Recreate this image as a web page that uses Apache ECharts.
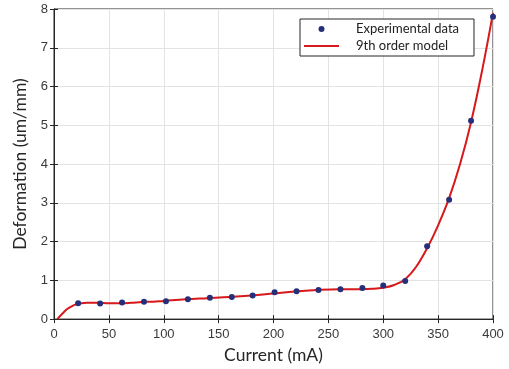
<!DOCTYPE html>
<html><head><meta charset="utf-8">
<style>html,body{margin:0;padding:0;background:#fff}#c{width:509px;height:369px}</style>
<script src="https://cdn.jsdelivr.net/npm/echarts@6/dist/echarts.min.js"></script>
</head><body><div id="c"></div>
<script>
// Experimental data (current mA, deformation um/mm)
var expX = [22, 42, 62, 82, 102, 122, 142, 162, 181, 201, 221, 241, 261, 281, 300, 320, 340, 360, 380, 400];
var expY = [0.41, 0.40, 0.43, 0.45, 0.46, 0.51, 0.55, 0.57, 0.61, 0.69, 0.72, 0.75, 0.77, 0.80, 0.87, 0.98, 1.88, 3.08, 5.12, 7.80];
// 9th order model curve
var modelX = [3, 8, 12, 16, 20, 25, 30, 40, 50, 60, 70, 80, 90, 100, 120, 140, 160, 180, 200, 220, 240, 260, 280, 290, 300, 310, 320, 330, 340, 350, 360, 370, 380, 390, 400];
var modelY = [0, 0.15, 0.26, 0.33, 0.38, 0.41, 0.42, 0.42, 0.41, 0.41, 0.42, 0.44, 0.45, 0.47, 0.51, 0.54, 0.57, 0.61, 0.66, 0.71, 0.75, 0.77, 0.77, 0.78, 0.81, 0.88, 1.03, 1.35, 1.83, 2.42, 3.12, 4.0, 5.08, 6.4, 7.9];
var xTicks = [0, 50, 100, 150, 200, 250, 300, 350, 400];
var yTicks = [0, 1, 2, 3, 4, 5, 6, 7, 8];

var expData = expX.map(function (x, i) { return [x, expY[i]]; });
var modelData = modelX.map(function (x, i) { return [x, modelY[i]]; });

var axisColor = '#262626';
var labelColor = '#3a3a3a';
var gridColor = '#e3e3e3';
var chart = echarts.init(document.getElementById('c'), null, {renderer: 'canvas'});
chart.setOption({
  animation: false,
  backgroundColor: '#ffffff',
  grid: {left: 54, right: 16, top: 9, bottom: 49, show: true, borderColor: axisColor, borderWidth: 1},
  xAxis: [{
    type: 'value', min: xTicks[0], max: xTicks[xTicks.length - 1], interval: 50,
    name: 'Current (mA)', nameLocation: 'middle', nameGap: 21,
    nameTextStyle: {fontFamily: 'Lato', fontSize: 17.5, color: axisColor},
    axisLine: {show: true, lineStyle: {color: axisColor}},
    axisTick: {show: true, inside: true, length: 4, lineStyle: {color: axisColor}},
    axisLabel: {fontFamily: 'Liberation Sans', fontSize: 13, color: labelColor, margin: 9},
    splitLine: {show: true, lineStyle: {color: gridColor, width: 1}}
  }, {
    type: 'value', position: 'top', min: 0, max: 400, interval: 50,
    axisLine: {show: true, lineStyle: {color: axisColor}},
    axisTick: {show: true, inside: true, length: 4, lineStyle: {color: axisColor}},
    axisLabel: {show: false}, splitLine: {show: false}
  }],
  yAxis: [{
    type: 'value', min: yTicks[0], max: yTicks[yTicks.length - 1], interval: 1,
    name: 'Deformation (um/mm)', nameLocation: 'middle', nameGap: 25,
    nameTextStyle: {fontFamily: 'Lato', fontSize: 17.5, color: axisColor},
    axisLine: {show: true, lineStyle: {color: axisColor}},
    axisTick: {show: true, inside: true, length: 4, lineStyle: {color: axisColor}},
    axisLabel: {fontFamily: 'Liberation Sans', fontSize: 13, color: labelColor, margin: 6},
    splitLine: {show: true, lineStyle: {color: gridColor, width: 1}}
  }, {
    type: 'value', position: 'right', min: 0, max: 8, interval: 1,
    axisLine: {show: true, lineStyle: {color: axisColor}},
    axisTick: {show: true, inside: true, length: 4, lineStyle: {color: axisColor}},
    axisLabel: {show: false}, splitLine: {show: false}
  }],
  legend: {
    orient: 'vertical', left: 300, top: 19,
    backgroundColor: '#ffffff', borderColor: axisColor, borderWidth: 1,
    padding: [3, 15, 3, 4], itemGap: 3, itemWidth: 35, itemHeight: 6,
    textStyle: {fontFamily: 'Lato', fontSize: 13, color: '#222', lineHeight: 14, padding: [0, 0, 0, 12]},
    data: [
      {name: 'Experimental data', icon: 'circle'},
      {name: '9th order model', icon: 'path://M0,0H35V2H0Z', itemStyle: {color: '#d7191c'}}
    ]
  },
  series: [{
    name: '9th order model', type: 'line', data: modelData, smooth: 0.4,
    symbol: 'none', showSymbol: false, lineStyle: {color: '#d7191c', width: 2}, itemStyle: {color: '#d7191c'},
    clip: true, z: 2
  }, {
    name: 'Experimental data', type: 'scatter', data: expData, symbolSize: 6,
    itemStyle: {color: '#26307a', opacity: 1}, z: 3
  }]
});
</script></body></html>
